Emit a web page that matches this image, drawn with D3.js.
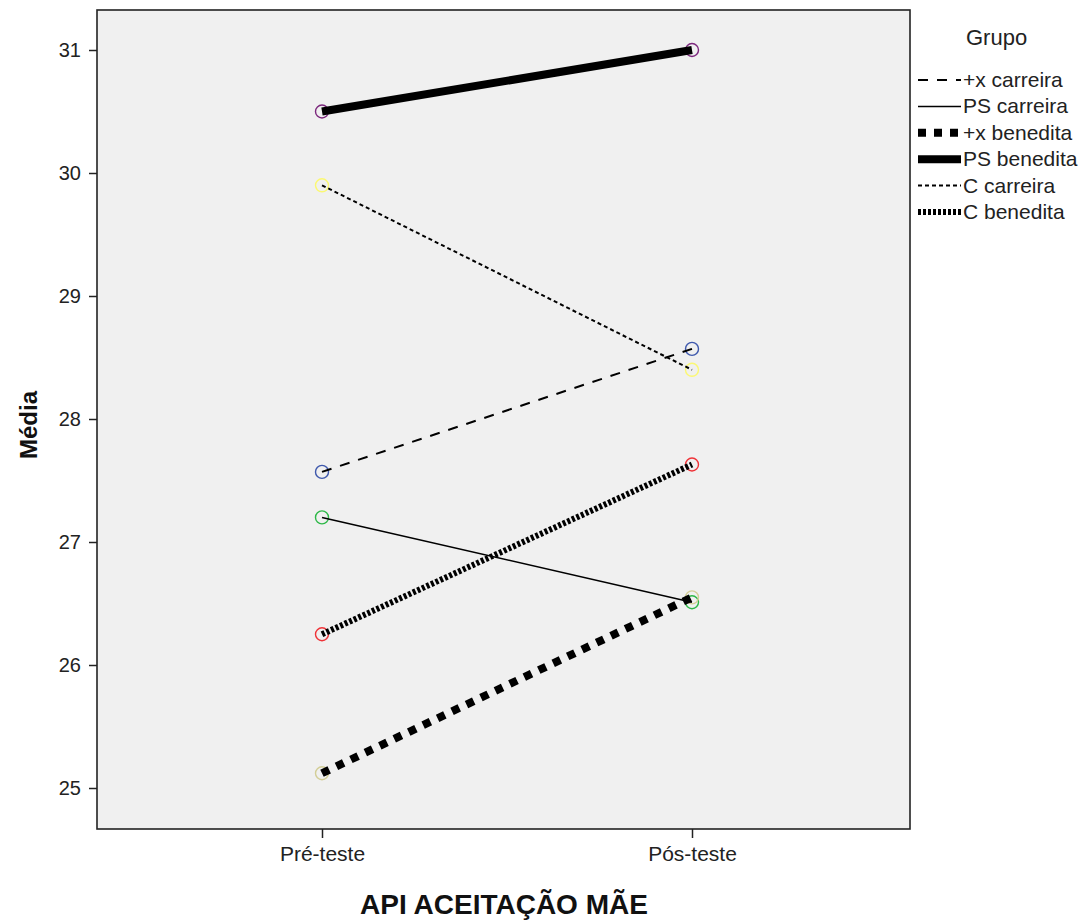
<!DOCTYPE html>
<html><head><meta charset="utf-8">
<script src="https://cdn.jsdelivr.net/npm/d3@7"></script>
<style>body{margin:0;background:#fff}svg{display:block;font-family:Arial,"Liberation Sans",sans-serif}</style>
</head><body><svg id="c" width="1083" height="921"></svg>
<script>
const categories = ["Pré-teste", "Pós-teste"];
const groups = ["+x carreira", "PS carreira", "+x benedita", "PS benedita", "C carreira", "C benedita"];
const preValues = [27.57, 27.20, 25.12, 30.50, 29.90, 26.25];
const postValues = [28.57, 26.51, 26.55, 31.00, 28.40, 27.63];
const markerColors = ["#3E58AC", "#2EB848", "#D3CE97", "#7C287D", "#FBF873", "#EF3338"];
const yTicks = [25, 26, 27, 28, 29, 30, 31];

const styles = [
  {w: 2, dash: "10,9"},
  {w: 1.5, dash: null},
  {w: 8, dash: "8,8"},
  {w: 8, dash: null},
  {w: 2, dash: "4,3"},
  {w: 6, dash: "3,2"}
];

const FONT = "Arial, 'Liberation Sans', sans-serif";
const svg = d3.select("#c");
const plot = {x0: 97, x1: 910, y0: 10, y1: 829};
const x = d3.scalePoint().domain(categories).range([322, 692]);
const y = d3.scaleLinear().domain([25, 31]).range([788, 50]);

svg.append("rect").attr("x", plot.x0).attr("y", plot.y0)
  .attr("width", plot.x1 - plot.x0).attr("height", plot.y1 - plot.y0)
  .attr("fill", "#F0F0F0");

// Y axis
const yAxis = svg.append("g").attr("transform", `translate(${plot.x0},0)`)
  .call(d3.axisLeft(y).tickValues(yTicks).tickSize(8).tickPadding(8).tickFormat(d3.format("d")));
yAxis.select(".domain").remove();
yAxis.selectAll("line").attr("stroke", "#222").attr("stroke-width", 1.5);
yAxis.selectAll("text").attr("font-size", 20).attr("fill", "#222").attr("font-family", FONT);

// X axis
const xAxis = svg.append("g").attr("transform", `translate(0,${plot.y1})`)
  .call(d3.axisBottom(x).tickSize(9).tickPadding(8));
xAxis.select(".domain").remove();
xAxis.selectAll("line").attr("stroke", "#222").attr("stroke-width", 1.5);
xAxis.selectAll("text").attr("font-size", 21).attr("fill", "#222").attr("font-family", FONT);

svg.append("rect").attr("x", plot.x0).attr("y", plot.y0)
  .attr("width", plot.x1 - plot.x0).attr("height", plot.y1 - plot.y0)
  .attr("fill", "none").attr("stroke", "#222").attr("stroke-width", 1.6);

// markers
groups.forEach((g, i) => {
  [preValues[i], postValues[i]].forEach((v, j) => {
    svg.append("circle").attr("cx", x(categories[j])).attr("cy", y(v)).attr("r", 6.5)
      .attr("fill", "none").attr("stroke", markerColors[i]).attr("stroke-width", 1.4);
  });
});

// lines
const line = d3.line().x(d => x(d.c)).y(d => y(d.v));
groups.forEach((g, i) => {
  const p = svg.append("path")
    .attr("d", line([{c: categories[0], v: preValues[i]}, {c: categories[1], v: postValues[i]}]))
    .attr("fill", "none").attr("stroke", "#000").attr("stroke-width", styles[i].w);
  if (styles[i].dash) p.attr("stroke-dasharray", styles[i].dash);
});

// axis titles
svg.append("text").attr("x", 504).attr("y", 914).attr("text-anchor", "middle")
  .attr("font-size", 28).attr("font-weight", "bold").attr("fill", "#111").text("API ACEITAÇÃO MÃE");
svg.append("text").attr("transform", "translate(37,425) rotate(-90)").attr("text-anchor", "middle")
  .attr("font-size", 24).attr("font-weight", "bold").attr("fill", "#111").text("Média");

// legend
svg.append("text").attr("x", 966).attr("y", 45).attr("font-size", 22).attr("fill", "#222").text("Grupo");
groups.forEach((g, i) => {
  const cy = 80 + i * 26.4;
  const l = svg.append("line").attr("x1", 918).attr("x2", 961).attr("y1", cy).attr("y2", cy)
    .attr("stroke", "#000").attr("stroke-width", styles[i].w);
  if (styles[i].dash) l.attr("stroke-dasharray", styles[i].dash);
  svg.append("text").attr("x", 963).attr("y", cy + 7).attr("font-size", 21).attr("fill", "#222").text(g);
});
</script></body></html>
